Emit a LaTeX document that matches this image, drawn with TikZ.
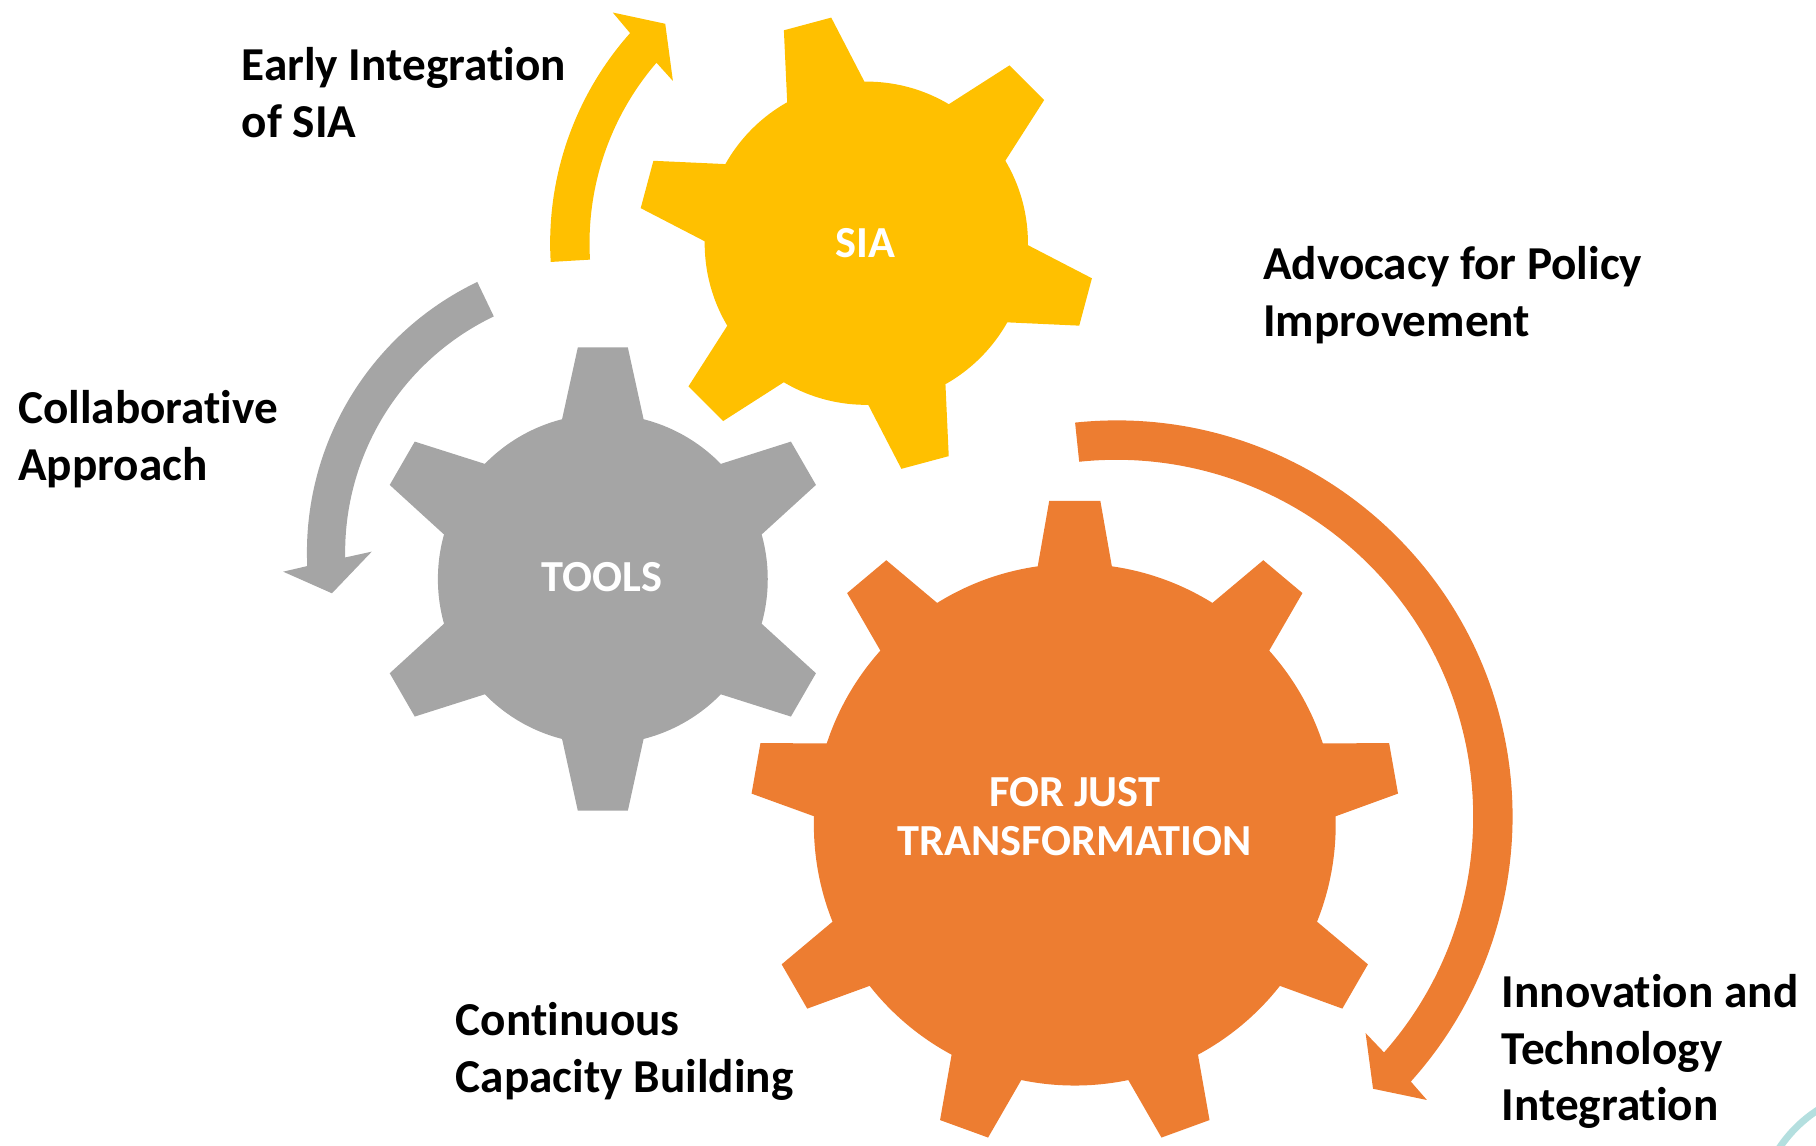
\documentclass[tikz,border=0pt]{standalone}
\usepackage{fontspec}
\setmainfont{Carlito}[Ligatures=NoCommon]
\definecolor{siayellow}{HTML}{FFC000}
\definecolor{toolsgray}{HTML}{A5A5A5}
\definecolor{justorange}{HTML}{ED7D31}
\definecolor{cornerteal}{HTML}{B4DFDF}
\newcommand\lblfont{\fontsize{11.6pt}{13.9pt}\selectfont\bfseries}
\newcommand\hubfont{\fontsize{10.9pt}{11.95pt}\selectfont\bfseries}
\begin{document}
\begin{tikzpicture}[
  lbl/.style={font=\lblfont,align=left,inner sep=0pt,anchor=west},
  hub/.style={font=\hubfont,text=white,align=center,inner sep=0pt}]
\useasboundingbox (0,0) rectangle (15.68,9.89);
%
% gear with six teeth (SIA)
\begin{scope}[shift={(7.48,7.79)},scale=1.96]
\fill[siayellow] (0,0) circle (0.712);
\foreach \a in {45,105,...,345}
  \fill[siayellow,rotate=\a] (0,0)--(0.69,-0.176)--(1,-0.108)--(1,0.108)--(0.69,0.176)--cycle;
\end{scope}
% gear with six teeth (TOOLS)
\begin{scope}[shift={(5.205,4.89)},scale=2]
\fill[toolsgray] (0,0) circle (0.712);
\foreach \a in {30,90,...,330}
  \fill[toolsgray,rotate=\a] (0,0)--(0.69,-0.176)--(1,-0.108)--(1,0.108)--(0.69,0.176)--cycle;
\end{scope}
% gear with nine teeth
\begin{scope}[shift={(9.28,2.77)},scale=2.795]
\fill[justorange] (0,0) circle (0.806);
\foreach \a in {10,50,...,330}
  \fill[justorange,rotate=\a] (0,0)--(0.798,-0.1145)--(1,-0.079)--(1,0.079)--(0.798,0.1145)--cycle;
\end{scope}
%
% circular arrows
\begin{scope}[shift={(7.48,7.79)}]
\fill[siayellow] (183.4:2.73) arc[start angle=183.4,end angle=138.35,radius=2.73]
  --(137.7:2.96)--(132.5:2.57)--(140:2.18)--(139.3:2.39)
  arc[start angle=139.3,end angle=183.4,radius=2.39]--cycle;
\end{scope}
\begin{scope}[shift={(5.24,5.12)}]
\fill[toolsgray] (115.6:2.59) arc[start angle=115.6,end angle=182.6,radius=2.59]
  --(183.4:2.80)--(188.45:2.40)--(179.8:2.03)--(181.1:2.26)
  arc[start angle=181.1,end angle=115.6,radius=2.26]--cycle;
\end{scope}
\begin{scope}[shift={(9.64,2.84)}]
\fill[justorange] (96:3.42) arc[start angle=96,end angle=-42,radius=3.42]
  --(-42.4:3.63)--(-46.7:3.23)--(-41:2.85)--(-41.4:3.08)
  arc[start angle=-41.4,end angle=96,radius=3.08]--cycle;
\end{scope}
%
% corner
\begin{scope}
\clip (0,0) rectangle (15.68,9.89);
\draw[cornerteal,line width=0.6mm] (16.32,-0.66) circle (1.15);
\end{scope}
%text
\node[hub] (sia) at (7.47,7.79) {SIA};
\node[hub] (tools) at (5.20,4.91) {TOOLS};
\node[hub] (just) at (9.28,2.84) {FOR JUST\\TRANSFORMATION};
\node[lbl] (early) at (2.08,9.09) {Early Integration\\of SIA};
\node[lbl] (collab) at (0.15,6.10) {Collaborative\\Approach};
\node[lbl] (advocacy) at (10.90,7.34) {Advocacy for Policy\\Improvement};
\node[lbl] (capacity) at (3.93,0.81) {Continuous\\Capacity Building};
\node[lbl] (innovation) at (12.96,0.81) {Innovation and\\Technology\\Integration};
\end{tikzpicture}
\end{document}
